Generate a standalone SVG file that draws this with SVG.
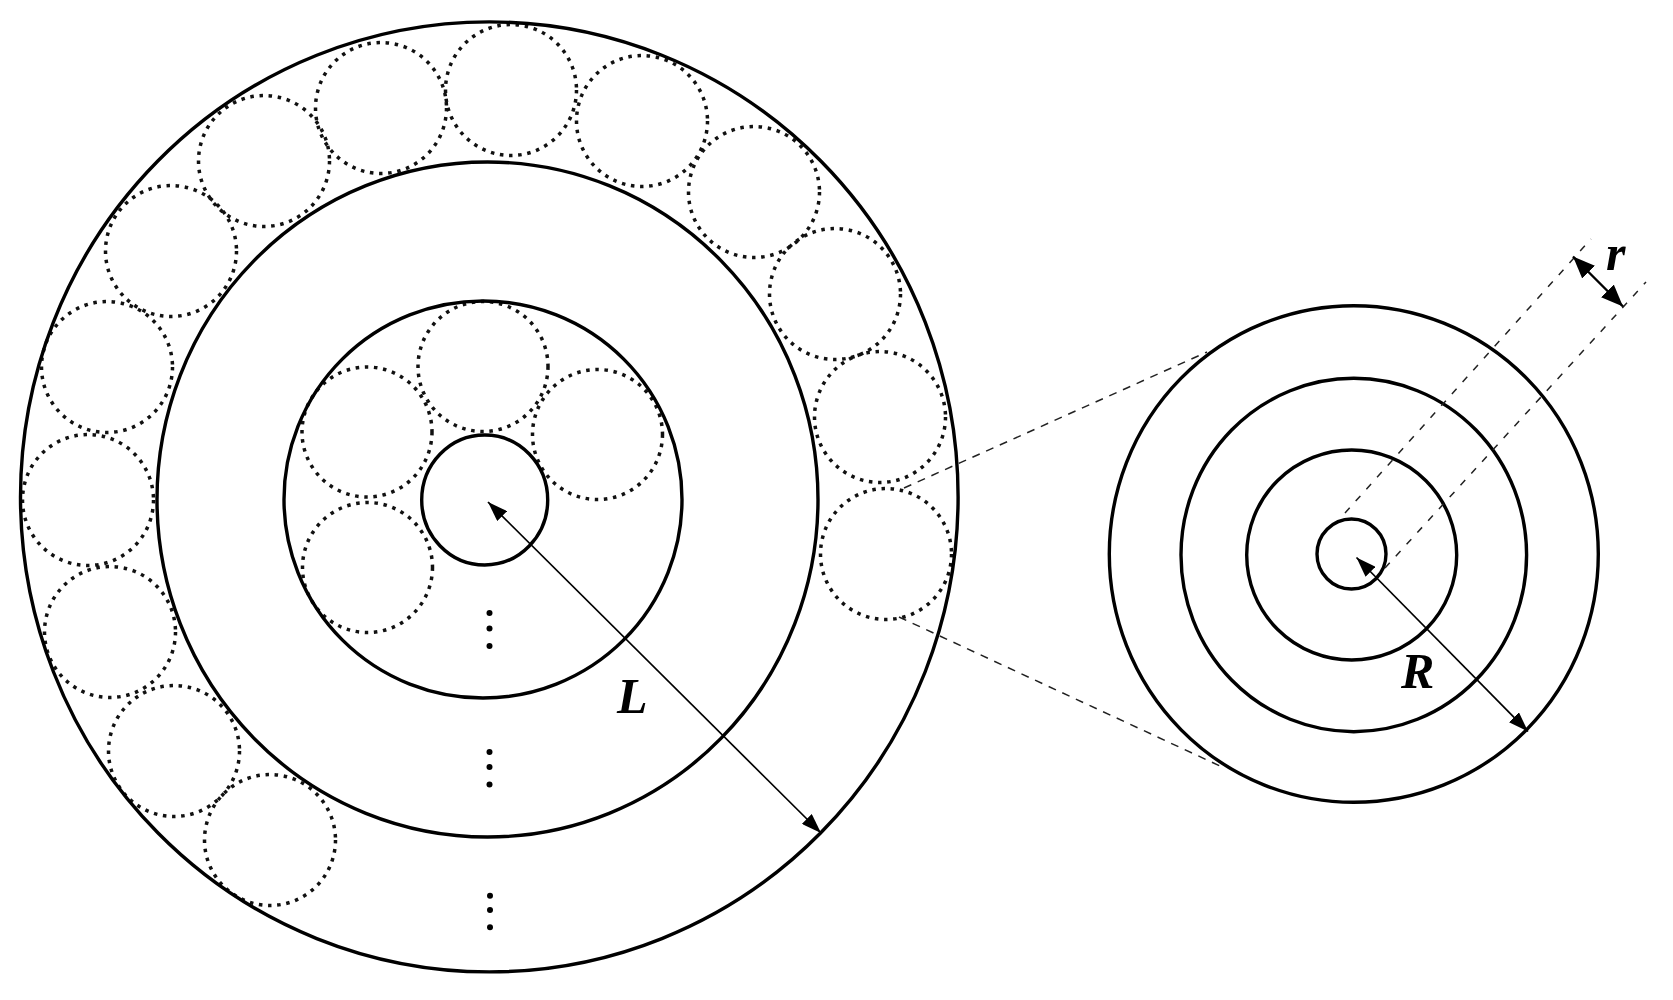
<svg xmlns="http://www.w3.org/2000/svg" width="1673" height="1000" viewBox="0 0 1673 1000">
  <style>
    .solid { fill: none; stroke: #000; stroke-width: 3.4; }
    .dot { fill: none; stroke: #111; stroke-width: 3.5; stroke-dasharray: 3.5 5.7; }
    .dash { fill: none; stroke: #222; stroke-width: 1.5; stroke-dasharray: 8 7; }
    .dash2 { fill: none; stroke: #222; stroke-width: 1.5; stroke-dasharray: 7 9; }
    .arrow { fill: none; stroke: #000; stroke-width: 1.7; marker-start: url(#head); marker-end: url(#head); }
    .arrowr { fill: none; stroke: #000; stroke-width: 2.4; marker-start: url(#headr); marker-end: url(#headr); }
    .lbl { font-family: "Liberation Serif", "Times New Roman", serif; font-weight: bold; font-style: italic; font-size: 50px; fill: #000; }
    .ell { fill: #000; }
  </style>
  <defs>
    <marker id="head" viewBox="0 -7 20 14" refX="20" refY="0" markerWidth="20" markerHeight="14" markerUnits="userSpaceOnUse" orient="auto-start-reverse">
      <path d="M0,-7 L20,0 L0,7 Z" fill="#000"/>
    </marker>
    <marker id="headr" viewBox="0 -9 22 18" refX="22" refY="0" markerWidth="22" markerHeight="18" markerUnits="userSpaceOnUse" orient="auto-start-reverse">
      <path d="M0,-9 L22,0 L0,9 Z" fill="#000"/>
    </marker>
  </defs>

  <g id="big-cross-section">
    <g id="outer-ring-fibers">
      <circle class="dot" cx="886" cy="554" r="65.5"/>
      <circle class="dot" cx="880" cy="417" r="65.5"/>
      <circle class="dot" cx="835" cy="294" r="65.5"/>
      <circle class="dot" cx="754" cy="192" r="65.5"/>
      <circle class="dot" cx="642" cy="121" r="65.5"/>
      <circle class="dot" cx="511" cy="90" r="65.5"/>
      <circle class="dot" cx="381" cy="108" r="65.5"/>
      <circle class="dot" cx="264" cy="161" r="65.5"/>
      <circle class="dot" cx="171" cy="251" r="65.5"/>
      <circle class="dot" cx="107" cy="367" r="65.5"/>
      <circle class="dot" cx="88" cy="500" r="65.5"/>
      <circle class="dot" cx="110" cy="632" r="65.5"/>
      <circle class="dot" cx="174" cy="751" r="65.5"/>
      <circle class="dot" cx="270" cy="840" r="65.5"/>
    </g>
    <g id="inner-ring-fibers">
      <circle class="dot" cx="483" cy="366.5" r="65"/>
      <circle class="dot" cx="367" cy="432" r="65"/>
      <circle class="dot" cx="597.5" cy="434.5" r="65"/>
      <circle class="dot" cx="367.5" cy="567.5" r="65"/>
    </g>
    <g id="big-rings">
      <ellipse class="solid" cx="489.3" cy="496.9" rx="468.8" ry="475"/>
      <ellipse class="solid" cx="487.5" cy="499.5" rx="330.5" ry="337.5"/>
      <ellipse class="solid" cx="483" cy="499.5" rx="199" ry="198.5"/>
      <ellipse class="solid" cx="484.7" cy="500" rx="63" ry="65"/>
    </g>
    <g id="ellipsis-dots">
      <circle class="ell" cx="489.5" cy="613" r="3"/>
      <circle class="ell" cx="489.5" cy="628.5" r="3"/>
      <circle class="ell" cx="489.5" cy="646" r="3"/>
      <circle class="ell" cx="489.5" cy="752" r="3"/>
      <circle class="ell" cx="489.5" cy="767" r="3"/>
      <circle class="ell" cx="489.5" cy="784.5" r="3"/>
      <circle class="ell" cx="490" cy="895.7" r="3"/>
      <circle class="ell" cx="490" cy="910" r="3"/>
      <circle class="ell" cx="490" cy="927.3" r="3"/>
    </g>
  </g>

  <g id="fiber-magnified">
    <ellipse class="solid" cx="1353.8" cy="554" rx="244.5" ry="248.3"/>
    <ellipse class="solid" cx="1353.8" cy="555" rx="172.8" ry="176.7"/>
    <ellipse class="solid" cx="1351.7" cy="555" rx="105" ry="105"/>
    <ellipse class="solid" cx="1351.5" cy="554" rx="34.5" ry="35"/>
  </g>

  <g id="connectors">
    <line class="dash" x1="904" y1="488" x2="1207" y2="352"/>
    <line class="dash" x1="899" y1="617" x2="1220" y2="766"/>
    <line class="dash2" x1="1345" y1="513" x2="1591" y2="239"/>
    <line class="dash2" x1="1385" y1="568" x2="1646" y2="282"/>
    <line class="arrow" x1="488" y1="502" x2="821" y2="833"/>
    <line class="arrow" x1="1356.5" y1="557.5" x2="1528" y2="731.5"/>
    <line class="arrowr" x1="1573" y1="256.5" x2="1623" y2="306.5"/>
  </g>

  <g id="labels">
    <text class="lbl" x="617" y="713">L</text>
    <text class="lbl" x="1401" y="688">R</text>
    <text class="lbl" x="1606" y="270">r</text>
  </g>
</svg>
